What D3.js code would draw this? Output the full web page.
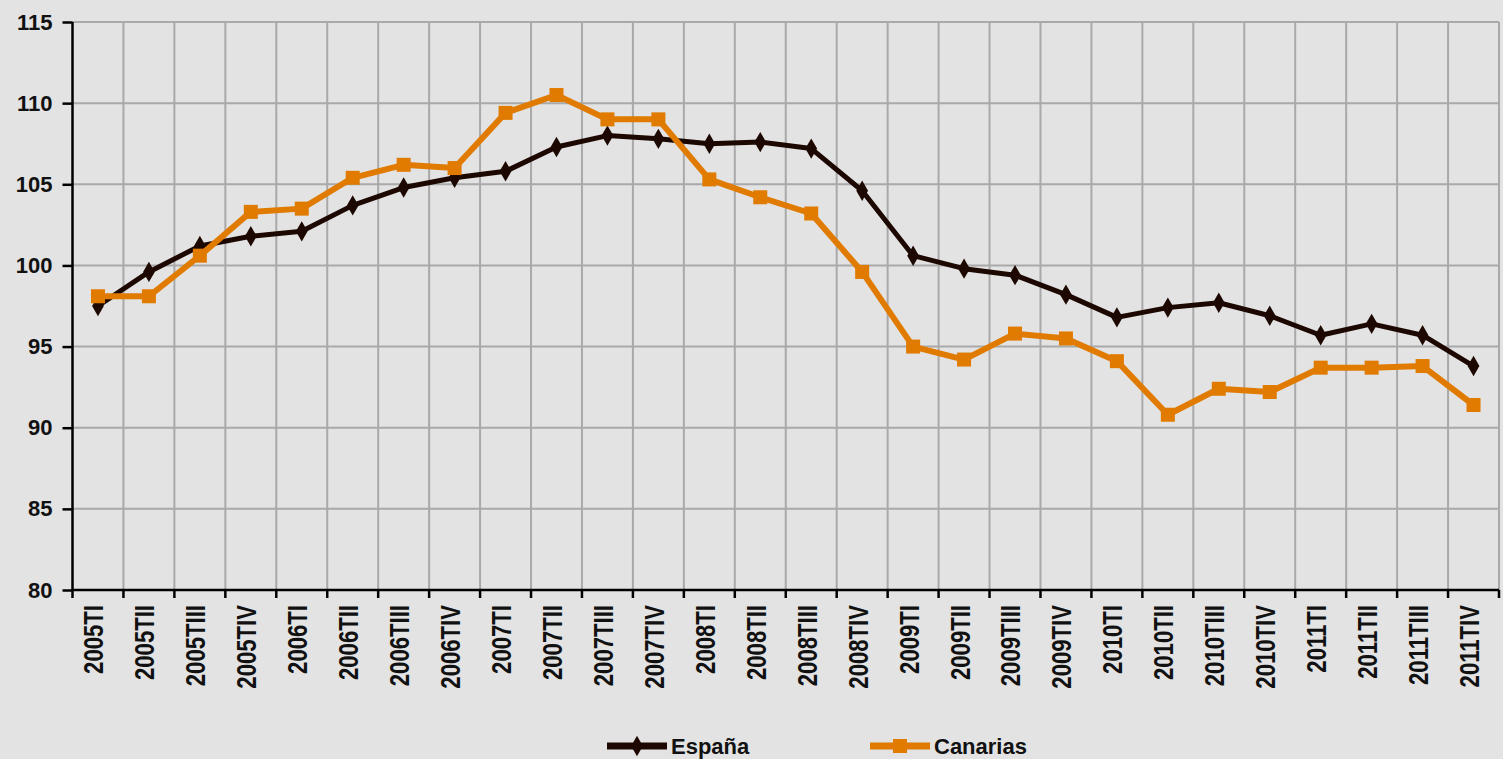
<!DOCTYPE html>
<html>
<head>
<meta charset="utf-8">
<script src="https://cdn.jsdelivr.net/npm/d3@7"></script>
<style>
  body { margin: 0; background: #e3e3e3; }
  svg { display: block; }
</style>
</head>
<body>
<div id="chart"></div>
<script>
var categories = ["2005TI", "2005TII", "2005TIII", "2005TIV", "2006TI", "2006TII", "2006TIII", "2006TIV",
  "2007TI", "2007TII", "2007TIII", "2007TIV", "2008TI", "2008TII", "2008TIII", "2008TIV",
  "2009TI", "2009TII", "2009TIII", "2009TIV", "2010TI", "2010TII", "2010TIII", "2010TIV",
  "2011TI", "2011TII", "2011TIII", "2011TIV"];
var espana = [97.5, 99.6, 101.2, 101.8, 102.1, 103.7, 104.8, 105.4,
  105.8, 107.3, 108.0, 107.8, 107.5, 107.6, 107.2, 104.6,
  100.6, 99.8, 99.4, 98.2, 96.8, 97.4, 97.7, 96.9,
  95.7, 96.4, 95.7, 93.8];
var canarias = [98.1, 98.1, 100.6, 103.3, 103.5, 105.4, 106.2, 106.0,
  109.4, 110.5, 109.0, 109.0, 105.3, 104.2, 103.2, 99.6,
  95.0, 94.2, 95.8, 95.5, 94.1, 90.8, 92.4, 92.2,
  93.7, 93.7, 93.8, 91.4];
var y_ticks = [80, 85, 90, 95, 100, 105, 110, 115];
var series_names = ["España", "Canarias"];

var width = 1503, height = 759;
var left = 72.5, right = 1499, top_y = 22, bottom_y = 590;
var grid_color = "#a9a9a9";
var color_espana = "#1c0800";
var color_canarias = "#e07b00";

var svg = d3.select("#chart").append("svg")
  .attr("width", width)
  .attr("height", height);

var x = d3.scaleBand().domain(categories).range([left, right]).padding(0);
var y = d3.scaleLinear().domain([80, 115]).range([bottom_y, top_y]);

// grid
var grid = svg.append("g");
grid.selectAll("line.h")
  .data(y_ticks.slice(1))
  .enter().append("line")
  .attr("x1", left).attr("x2", right)
  .attr("y1", function (d) { return y(d); })
  .attr("y2", function (d) { return y(d); })
  .style("stroke", grid_color).style("stroke-width", 2);
grid.selectAll("line.v")
  .data(categories)
  .enter().append("line")
  .attr("x1", function (d) { return x(d) + x.bandwidth(); })
  .attr("x2", function (d) { return x(d) + x.bandwidth(); })
  .attr("y1", top_y).attr("y2", bottom_y)
  .style("stroke", grid_color).style("stroke-width", 2);

// y axis
var y_axis = svg.append("g")
  .attr("transform", "translate(" + left + ",0)")
  .call(d3.axisLeft(y).tickValues(y_ticks).tickSize(10).tickPadding(10));
y_axis.select(".domain").attr("d", "M0," + top_y + "V" + bottom_y).style("stroke", "#000").style("stroke-width", 2.5);
y_axis.selectAll(".tick line").style("stroke", "#000").style("stroke-width", 2.5);
y_axis.selectAll(".tick text")
  .style("font-family", "'Liberation Sans', Arial, sans-serif")
  .style("font-weight", "bold")
  .style("font-size", "22px")
  .style("fill", "#111");

// x axis
var x_axis = svg.append("g")
  .attr("transform", "translate(0," + bottom_y + ")");
x_axis.append("line")
  .attr("x1", left).attr("x2", right).attr("y1", 0).attr("y2", 0)
  .style("stroke", "#000").style("stroke-width", 2.5);
x_axis.selectAll("line.tick")
  .data(categories.concat(["end"]))
  .enter().append("line")
  .attr("x1", function (d, i) { return left + i * x.bandwidth(); })
  .attr("x2", function (d, i) { return left + i * x.bandwidth(); })
  .attr("y1", 0).attr("y2", 8)
  .style("stroke", "#000").style("stroke-width", 2.5);
x_axis.selectAll("text")
  .data(categories)
  .enter().append("text")
  .attr("transform", function (d) {
    return "translate(" + (x(d) + x.bandwidth() / 2 - 4) + ",15) rotate(-90) scale(0.82,1)";
  })
  .attr("dy", "0.35em")
  .attr("text-anchor", "end")
  .style("font-family", "'Liberation Sans', Arial, sans-serif")
  .style("font-weight", "bold")
  .style("font-size", "27px")
  .style("fill", "#111")
  .text(function (d) { return d; });

// lines
var line = d3.line()
  .x(function (d, i) { return x(categories[i]) + x.bandwidth() / 2; })
  .y(function (d) { return y(d); });

svg.append("path")
  .datum(espana)
  .attr("d", line)
  .style("fill", "none")
  .style("stroke", color_espana)
  .style("stroke-width", 5)
  .style("stroke-linejoin", "round");
var diamond = d3.symbol().type(d3.symbolDiamond).size(120);
svg.selectAll("path.espana")
  .data(espana)
  .enter().append("path")
  .attr("d", diamond)
  .attr("transform", function (d, i) {
    return "translate(" + (x(categories[i]) + x.bandwidth() / 2) + "," + y(d) + ")";
  })
  .style("fill", color_espana);

svg.append("path")
  .datum(canarias)
  .attr("d", line)
  .style("fill", "none")
  .style("stroke", color_canarias)
  .style("stroke-width", 6)
  .style("stroke-linejoin", "round");
svg.selectAll("rect.canarias")
  .data(canarias)
  .enter().append("rect")
  .attr("x", function (d, i) { return x(categories[i]) + x.bandwidth() / 2 - 7; })
  .attr("y", function (d) { return y(d) - 7; })
  .attr("width", 14).attr("height", 14)
  .style("fill", color_canarias);

// legend
var legend_items = [
  { name: series_names[0], color: color_espana, x0: 607, width: 7, marker: "diamond" },
  { name: series_names[1], color: color_canarias, x0: 870, width: 7, marker: "square" }
];
var legend = svg.append("g").attr("transform", "translate(0,746)");
legend_items.forEach(function (it) {
  legend.append("line")
    .attr("x1", it.x0).attr("x2", it.x0 + 60)
    .attr("y1", 0).attr("y2", 0)
    .style("stroke", it.color).style("stroke-width", it.width);
  if (it.marker === "diamond") {
    legend.append("path")
      .attr("d", diamond)
      .attr("transform", "translate(" + (it.x0 + 30) + ",0)")
      .style("fill", it.color);
  } else {
    legend.append("rect")
      .attr("x", it.x0 + 23).attr("y", -7)
      .attr("width", 14).attr("height", 14)
      .style("fill", it.color);
  }
  legend.append("text")
    .attr("x", it.x0 + 64)
    .attr("y", 8)
    .style("font-family", "'Liberation Sans', Arial, sans-serif")
    .style("font-weight", "bold")
    .style("font-size", "22px")
    .style("fill", "#111")
    .text(it.name);
});
</script>
</body>
</html>
